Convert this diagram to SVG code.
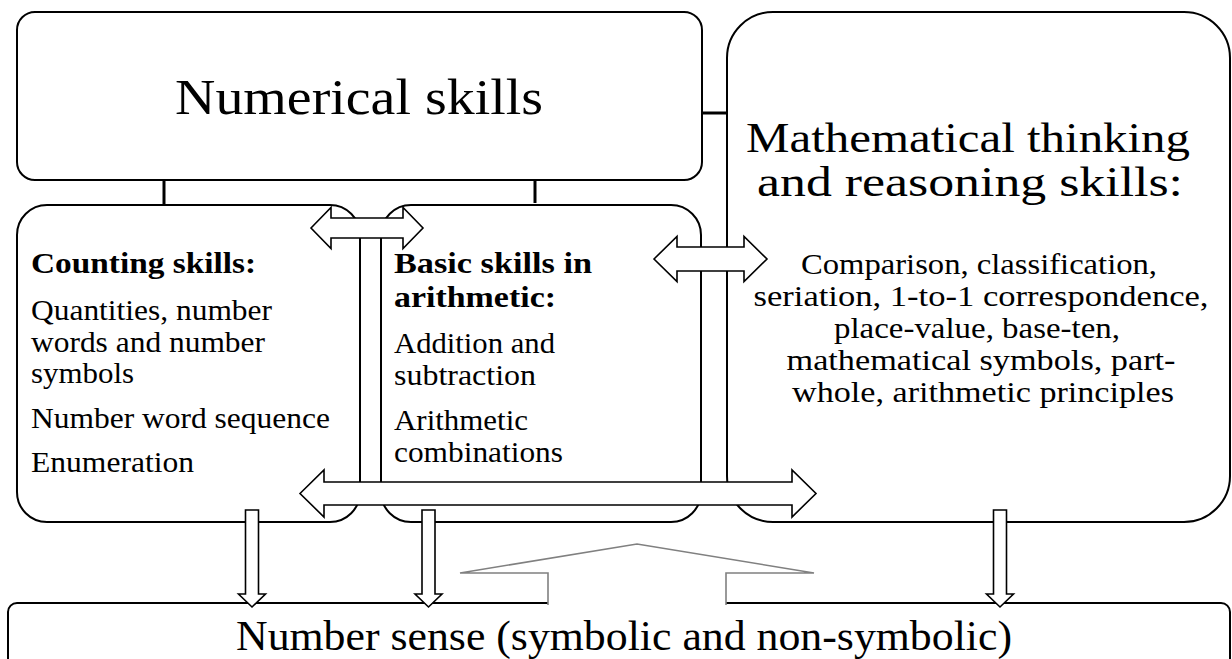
<svg xmlns="http://www.w3.org/2000/svg" width="1232" height="659" viewBox="0 0 1232 659">
<style>
.box{fill:#fff;stroke:#000;stroke-width:2}
.conn{stroke:#000;stroke-width:3;fill:none}
.blk{fill:#fff;stroke:#000;stroke-width:1.6;stroke-linejoin:miter}
.up{fill:#fff;stroke:#808080;stroke-width:1.6}
text{font-family:"Liberation Serif","Times New Roman",serif;fill:#000}
.t{font-size:29px}
.b{font-size:29px;font-weight:bold}
.m{font-size:29px;text-anchor:middle}
.big{font-size:50px;text-anchor:middle}
.tit{font-size:42px;text-anchor:middle}
.bot{font-size:42px;text-anchor:middle}
</style>
<rect width="1232" height="659" fill="#fff"/>
<g id="numerical">
<rect class="box" x="17" y="12" width="685" height="168" rx="18"/>
<text class="big" x="359" y="114" textLength="368" lengthAdjust="spacingAndGlyphs">Numerical skills</text>
</g>
<g id="math">
<rect class="box" x="727" y="12" width="503" height="510" rx="46"/>
<text class="tit" x="968" y="152" textLength="444" lengthAdjust="spacingAndGlyphs">Mathematical thinking</text>
<text class="tit" x="970" y="196" textLength="426" lengthAdjust="spacingAndGlyphs">and reasoning skills:</text>
<text class="m" x="979" y="274" textLength="356" lengthAdjust="spacingAndGlyphs">Comparison, classification,</text>
<text class="m" x="981" y="306" textLength="455" lengthAdjust="spacingAndGlyphs">seriation, 1-to-1 correspondence,</text>
<text class="m" x="977" y="338" textLength="286" lengthAdjust="spacingAndGlyphs">place-value, base-ten,</text>
<text class="m" x="981" y="370" textLength="389" lengthAdjust="spacingAndGlyphs">mathematical symbols, part-</text>
<text class="m" x="983" y="402" textLength="382" lengthAdjust="spacingAndGlyphs">whole, arithmetic principles</text>
</g>
<g id="counting">
<rect class="box" x="17" y="205" width="343" height="317" rx="30"/>
<text class="b" x="31" y="273" textLength="225" lengthAdjust="spacingAndGlyphs">Counting skills:</text>
<text class="t" x="31" y="320" textLength="241" lengthAdjust="spacingAndGlyphs">Quantities, number</text>
<text class="t" x="31" y="352" textLength="234" lengthAdjust="spacingAndGlyphs">words and number</text>
<text class="t" x="31" y="383" textLength="103" lengthAdjust="spacingAndGlyphs">symbols</text>
<text class="t" x="31" y="428" textLength="299" lengthAdjust="spacingAndGlyphs">Number word sequence</text>
<text class="t" x="31" y="472" textLength="163" lengthAdjust="spacingAndGlyphs">Enumeration</text>
</g>
<g id="basic">
<rect class="box" x="381" y="205" width="320" height="317" rx="30"/>
<text class="b" x="394" y="273" textLength="198" lengthAdjust="spacingAndGlyphs">Basic skills in</text>
<text class="b" x="394" y="307" textLength="162" lengthAdjust="spacingAndGlyphs">arithmetic:</text>
<text class="t" x="394" y="353" textLength="161" lengthAdjust="spacingAndGlyphs">Addition and</text>
<text class="t" x="394" y="385" textLength="142" lengthAdjust="spacingAndGlyphs">subtraction</text>
<text class="t" x="394" y="430" textLength="134" lengthAdjust="spacingAndGlyphs">Arithmetic</text>
<text class="t" x="394" y="462" textLength="169" lengthAdjust="spacingAndGlyphs">combinations</text>
</g>
<g id="numbersense">
<rect class="box" x="8" y="603" width="1222" height="90" rx="9"/>
<text class="bot" x="624" y="650" textLength="776" lengthAdjust="spacingAndGlyphs">Number sense (symbolic and non-symbolic)</text>
</g>
<g id="connectors">
<line class="conn" x1="164" y1="180" x2="164" y2="205"/>
<line class="conn" x1="535" y1="180" x2="535" y2="203"/>
<line class="conn" x1="702" y1="113" x2="727" y2="113"/>
<path class="blk" d="M311,228 L331,207.5 L331,218 L403,218 L403,207.5 L423,228 L403,248.5 L403,238 L331,238 L331,248.5 Z"/>
<path class="blk" d="M654,259 L677,236.5 L677,247 L744,247 L744,236.5 L767,259 L744,281.5 L744,271 L677,271 L677,281.5 Z"/>
<path class="blk" d="M300,493.5 L324,470 L324,482 L792,482 L792,470 L816,493.5 L792,517 L792,505 L324,505 L324,517 Z"/>
<path class="blk" d="M245.5,510 L258.5,510 L258.5,594 L265.5,594 L252,607 L238.5,594 L245.5,594 Z"/>
<path class="blk" d="M422,510 L435,510 L435,594 L442,594 L428.5,607 L415,594 L422,594 Z"/>
<path class="blk" d="M993.5,510 L1006.5,510 L1006.5,594 L1013.5,594 L1000,607 L986.5,594 L993.5,594 Z"/>
<path d="M548,605 L548,573 L460,573 L637,544 L814,573 L726,573 L726,605 Z" fill="#fff" stroke="none"/>
<path class="up" fill="none" d="M548,605 L548,573 L460,573 L637,544 L814,573 L726,573 L726,605"/>
</g>
</svg>
